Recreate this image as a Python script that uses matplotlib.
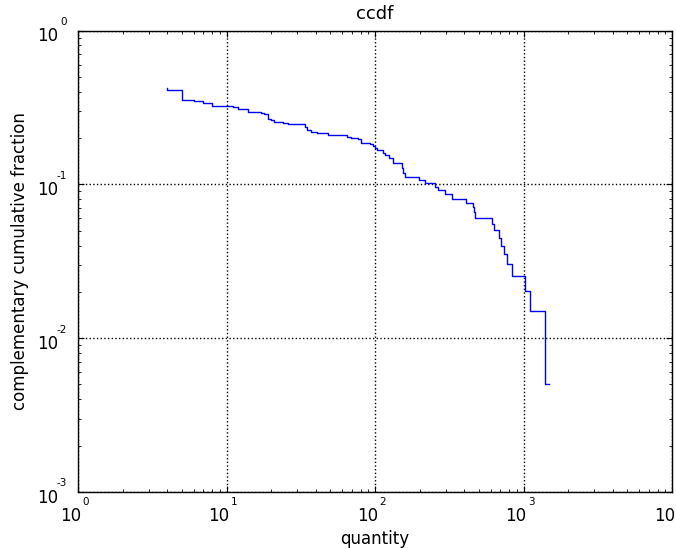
import matplotlib
matplotlib.use("Agg")
import matplotlib.pyplot as plt
from matplotlib import transforms

# step data (steps-pre): x value and complementary cumulative fraction
quantity = [4, 5, 6, 7, 8, 11, 12, 14, 17, 18, 19, 20, 21, 24, 26, 34, 35, 37, 41, 48,
            65, 69, 77, 80, 92, 96.5, 100, 103, 114, 117, 125, 132, 151, 155, 158,
            199, 217, 254, 267, 294, 329, 410, 459, 466, 471, 617, 636, 687, 702, 739,
            771, 840, 1023, 1106, 1396, 1485]
fraction = [0.424, 0.409, 0.354, 0.349, 0.337, 0.325, 0.318, 0.311, 0.297, 0.293,
            0.287, 0.267, 0.261, 0.256, 0.250, 0.246, 0.2375, 0.226, 0.2205, 0.215,
            0.210, 0.2046, 0.1997, 0.196, 0.185, 0.1825, 0.178, 0.172, 0.166, 0.1595,
            0.155, 0.148, 0.137, 0.1274, 0.118, 0.111, 0.106, 0.102, 0.0967, 0.092,
            0.0864, 0.0804, 0.0754, 0.0717, 0.0665, 0.0608, 0.0553, 0.0506, 0.0447, 0.040,
            0.0353, 0.0303, 0.0254, 0.0203, 0.0151, 0.00505]

x_exps = [0, 1, 2, 3, 4]
y_exps = [0, -1, -2, -3]

fig = plt.figure(figsize=(6.76, 5.48), dpi=100)
ax = fig.add_axes([78/676, 1-492/548, (672-78)/676, (492-30.5)/548])
ax.plot(quantity, fraction, drawstyle='steps-pre', color='#0000ff', lw=1.0)
ax.set_xscale('log')
ax.set_yscale('log')
ax.set_xlim(1, 1e4)
ax.set_ylim(1e-3, 1)
ax.grid(True, which='major', color='black', linestyle=':', linewidth=1.0)
ax.tick_params(which='both', direction='in', top=True, right=True,
               labelbottom=False, labelleft=False)
ax.tick_params(which='major', length=4, width=0.8)
ax.tick_params(which='minor', length=2, width=0.6)
for s in ax.spines.values():
    s.set_linewidth(1.0)
    s.set_color('black')

ax.set_title('ccdf', fontsize=13, pad=8)
ax.set_xlabel('quantity', fontsize=12, labelpad=27)
ax.set_ylabel('complementary cumulative fraction', fontsize=12, labelpad=35)

xt = ax.get_xaxis_transform()
for e in x_exps:
    v = 10.0 ** e
    t1 = transforms.offset_copy(xt, fig=fig, x=2.2, y=-17.5, units='points')
    ax.text(v, 0, '10', transform=t1, ha='right', va='center', fontsize=12, clip_on=False)
    t2 = transforms.offset_copy(xt, fig=fig, x=3.0, y=-7.0, units='points')
    ax.text(v, 0, str(e), transform=t2, ha='left', va='center', fontsize=7.5, clip_on=False)

yt = ax.get_yaxis_transform()
for e in y_exps:
    v = 10.0 ** e
    t1 = transforms.offset_copy(yt, fig=fig, x=-14.5, y=-4.3, units='points')
    ax.text(0, v, '10', transform=t1, ha='right', va='center', fontsize=12, clip_on=False)
    t2 = transforms.offset_copy(yt, fig=fig, x=-8.0, y=6.2, units='points')
    ax.text(0, v, str(e), transform=t2, ha='right', va='center', fontsize=7.5, clip_on=False)

fig.savefig('out.png', dpi=100)
